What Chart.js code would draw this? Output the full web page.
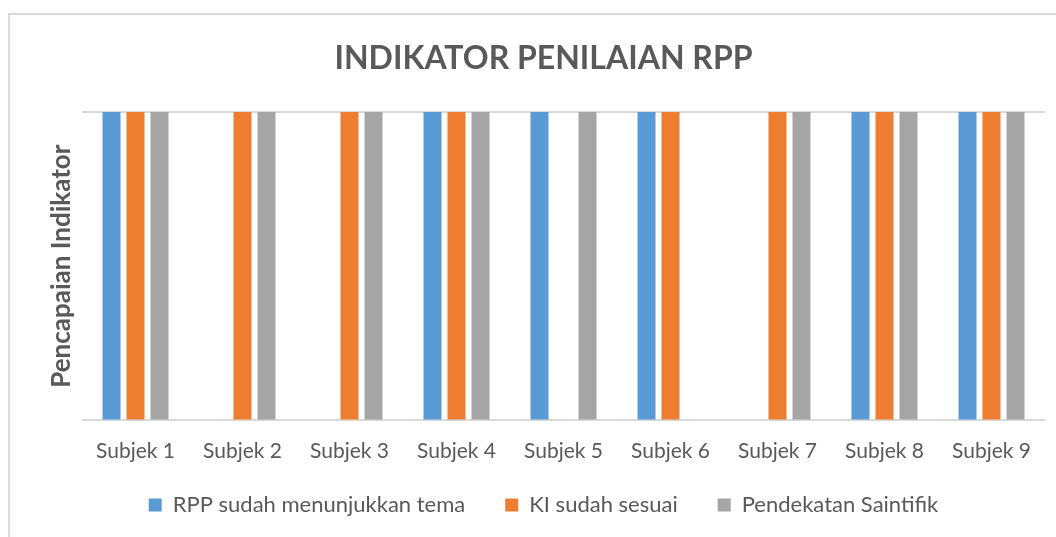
<!DOCTYPE html>
<html lang="id">
<head>
  <meta charset="UTF-8" />
  <title>Indikator Penilaian RPP</title>
  <script src="https://cdn.jsdelivr.net/npm/chart.js"></script>
  <style>
    html, body { margin: 0; padding: 0; background: #fff; overflow: hidden; }
    #frame { position: absolute; left: 8px; top: 13px; width: 1100px; height: 600px;
             border: 2px solid #d9d9d9; box-sizing: border-box; }
    #wrap { position: absolute; left: 0; top: 0; width: 1056px; height: 537px; }
  </style>
</head>
<body>
<div id="frame"></div>
<div id="wrap"><canvas id="chart"></canvas></div>

<script>
const subjek = ['Subjek 1','Subjek 2','Subjek 3','Subjek 4','Subjek 5','Subjek 6','Subjek 7','Subjek 8','Subjek 9'];
const rppTema = [1, 0, 0, 1, 1, 1, 0, 1, 1];
const kiSesuai = [1, 1, 1, 1, 0, 1, 1, 1, 1];
const saintifik = [1, 1, 1, 1, 1, 0, 1, 1, 1];

const font = 'Lato, "Open Sans", sans-serif';
const grey = '#595959';

const bar = (label, data, color) => ({
  label, data, backgroundColor: color,
  categoryPercentage: 0.673, barPercentage: 0.75
});

// legend padding also sets the vertical gap, pull it up a bit after layout
const liftLegend = {
  id: 'liftLegend',
  afterLayout(chart) {
    const l = chart.legend;
    l.top -= 17;
    l.bottom -= 17;
  }
};

new Chart(document.getElementById('chart'), {
  type: 'bar',
  data: {
    labels: subjek,
    datasets: [
      bar('RPP sudah menunjukkan tema', rppTema, '#5b9bd5'),
      bar('KI sudah sesuai', kiSesuai, '#ed7d31'),
      bar('Pendekatan Saintifik', saintifik, '#a5a5a5')
    ]
  },
  plugins: [liftLegend],
  options: {
    responsive: true,
    maintainAspectRatio: false,
    animation: false,
    layout: { padding: { left: 42, right: 11, top: 0, bottom: -6 } },
    plugins: {
      title: {
        display: true, text: 'INDIKATOR PENILAIAN RPP', color: grey,
        font: { family: font, size: 32, weight: 'bold' },
        padding: { top: 39, bottom: 34.6 }
      },
      legend: {
        position: 'bottom',
        labels: { color: grey, font: { family: font, size: 22 }, boxWidth: 13, boxHeight: 13, padding: 40 }
      },
      tooltip: { enabled: false }
    },
    scales: {
      x: {
        grid: { display: false },
        border: { color: '#d9d9d9' },
        ticks: { color: grey, font: { family: font, size: 21 }, padding: 10 },
        afterFit: s => { s.height = 50.6; }
      },
      y: {
        min: 0, max: 1,
        ticks: { display: false, stepSize: 1 },
        grid: { color: '#d9d9d9', drawTicks: false, lineWidth: 2 },
        border: { display: false },
        title: { display: true, text: 'Pencapaian Indikator', color: grey,
                 font: { family: font, size: 26, weight: 'bold' } },
        afterFit: s => { s.width = 40; }
      }
    }
  }
});
</script>
</body>
</html>
